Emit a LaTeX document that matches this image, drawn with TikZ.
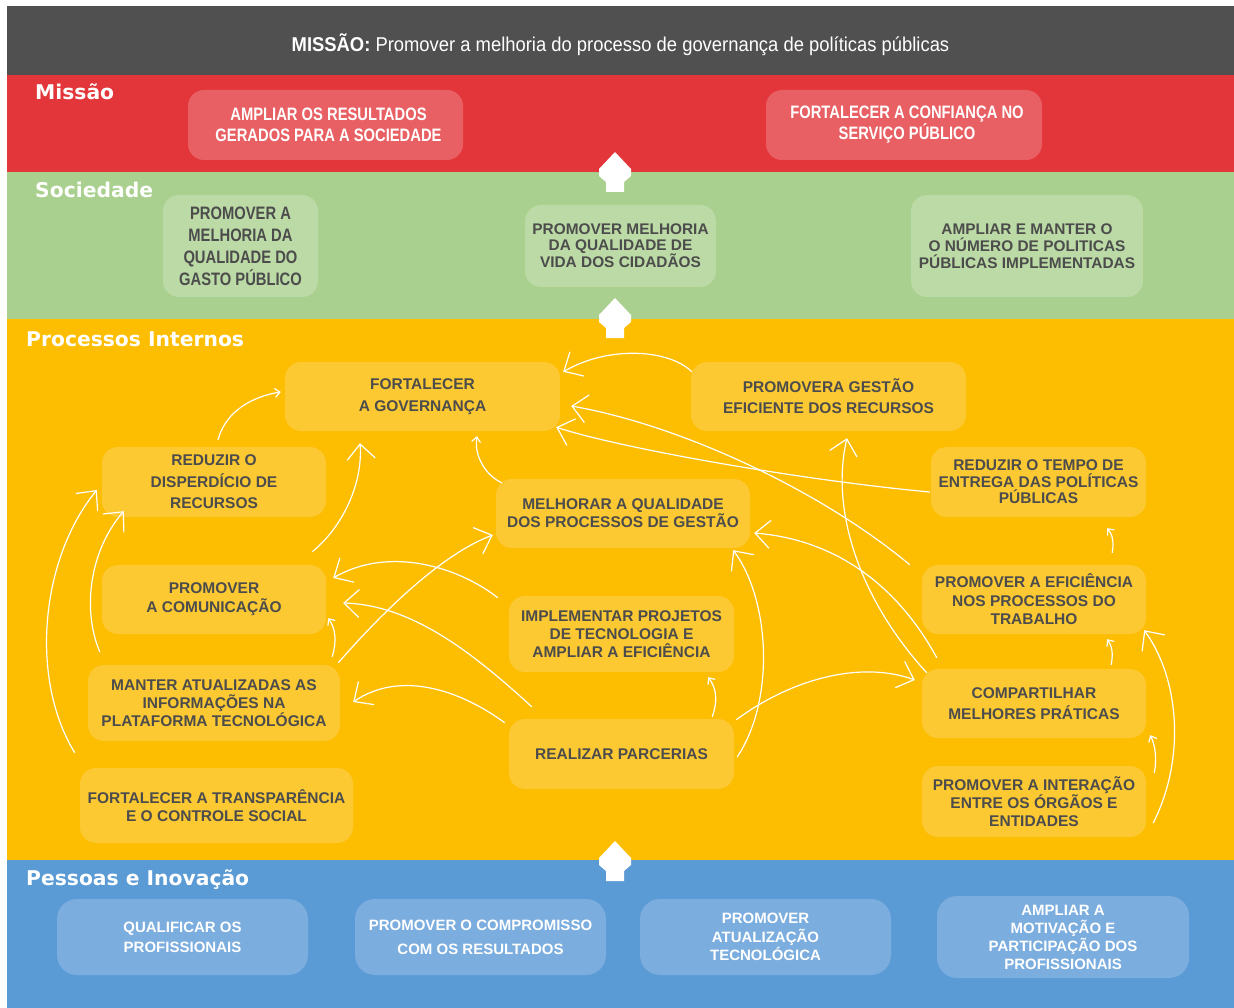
\documentclass[tikz,border=0pt]{standalone}
\usepackage{fontspec}
\setmainfont{Liberation Sans}
\newfontfamily\narrowfont[FakeStretch=0.82]{Liberation Sans}
\newfontfamily\ttlfont[FakeStretch=0.92]{Liberation Sans}
\newfontfamily\bandfont{DejaVu Sans}
\usetikzlibrary{arrows.meta,calc}
\definecolor{darkband}{HTML}{505050}
\definecolor{redband}{HTML}{E3363A}
\definecolor{redbox}{HTML}{E86063}
\definecolor{greenband}{HTML}{A9D08E}
\definecolor{greenbox}{HTML}{BBDAA5}
\definecolor{yellowband}{HTML}{FDBD00}
\definecolor{yellowbox}{HTML}{FCC933}
\definecolor{blueband}{HTML}{5B9BD5}
\definecolor{bluebox}{HTML}{7BADDE}
\definecolor{txtc}{HTML}{4C4C4C}
\newcommand\bxf[1]{\fontsize{15.5}{#1}\selectfont\bfseries}
\newcommand\gxf[1]{\fontsize{15.4}{#1}\selectfont\bfseries}
\newcommand\blf[1]{\fontsize{15}{#1}\selectfont\bfseries}
\newcommand\nrf[1]{\narrowfont\fontsize{18}{#1}\selectfont\bfseries}
\begin{document}
\begin{tikzpicture}[x=1pt,y=-1pt,
  boxbase/.style={rounded corners=16pt, align=center, inner sep=0pt},
  ybox/.style={boxbase, fill=yellowbox, text=txtc},
  gbox/.style={boxbase, fill=greenbox, text=txtc},
  rbox/.style={boxbase, fill=redbox, text=white},
  bbox/.style={boxbase, fill=bluebox, text=white, rounded corners=20pt},
  bandlabel/.style={anchor=base west, text=white, inner sep=0pt, font=\bandfont\fontsize{20.3}{24}\selectfont\bfseries},
  bigarrow/.style={draw=white, line width=1.2pt, -{Straight Barb[length=15pt,width=28pt]}},
  smallarrow/.style={draw=white, line width=1.2pt, -{Straight Barb[length=5pt,width=9pt]}}
]
\useasboundingbox (0,0) rectangle (1234,1008);
\fill[white] (0,0) rectangle (1234,1008);
% bands
\fill[darkband] (7,6) rectangle (1234,75);
\fill[redband] (7,75) rectangle (1234,172);
\fill[greenband] (7,172) rectangle (1234,319);
\fill[yellowband] (7,319) rectangle (1234,860);
\fill[blueband] (7,860) rectangle (1234,1008);

% title
\node[anchor=base, text=white, inner sep=0pt, font=\ttlfont\fontsize{20}{24}\selectfont] (title) at (620.5,52)
  {\bfseries MISSÃO: \mdseries Promover a melhoria do processo de governança de políticas públicas};

% band labels
\node[bandlabel] (lmissao) at (35,100) {Missão};
\node[bandlabel] (lsoc) at (35,198) {Sociedade};
\node[bandlabel] (lproc) at (26,346) {Processos Internos};
\node[bandlabel] (lpess) at (26,885) {Pessoas e Inovação};

% red boxes
\node[rbox, minimum width=275pt, minimum height=70pt, font=\nrf{21}] (ampliar) at (325.5,125) {\hspace*{6pt}AMPLIAR OS RESULTADOS\\\hspace*{6pt}GERADOS PARA A SOCIEDADE};
\node[rbox, minimum width=276pt, minimum height=70pt, font=\nrf{21}] (confianca) at (904,125) {\hspace*{6pt}FORTALECER A CONFIANÇA NO\\\hspace*{6pt}SERVIÇO PÚBLICO};

% green boxes
\node[gbox, minimum width=155pt, minimum height=102pt, font=\nrf{22}] (gasto) at (240.5,246) {PROMOVER A\\MELHORIA DA\\QUALIDADE DO\\GASTO PÚBLICO};
\node[gbox, minimum width=191pt, minimum height=82pt, font=\gxf{15.5}] (vida) at (620.5,246) {PROMOVER MELHORIA\\DA QUALIDADE DE\\VIDA DOS CIDADÃOS};
\node[gbox, minimum width=232pt, minimum height=102pt, font=\gxf{17}] (numero) at (1027,246) {AMPLIAR E MANTER O\\O NÚMERO DE POLITICAS\\PÚBLICAS IMPLEMENTADAS};

% yellow boxes
\node[ybox, minimum width=275pt, minimum height=69pt, font=\bxf{22}] (gov) at (422.5,396.5) {FORTALECER\\A GOVERNANÇA};
\node[ybox, minimum width=275pt, minimum height=69pt, font=\bxf{21}] (gestao) at (828.5,396.5) {PROMOVERA GESTÃO\\EFICIENTE DOS RECURSOS};
\node[ybox, minimum width=224pt, minimum height=70pt, font=\bxf{21.5}] (desp) at (214,482) {REDUZIR O\\DISPERDÍCIO DE\\RECURSOS};
\node[ybox, minimum width=215pt, minimum height=70pt, font=\bxf{16.5}] (tempo) at (1038.5,482) {REDUZIR O TEMPO DE\\ENTREGA DAS POLÍTICAS\\PÚBLICAS};
\node[ybox, minimum width=254pt, minimum height=69pt, font=\bxf{18}] (melhorar) at (623,513.5) {MELHORAR A QUALIDADE\\DOS PROCESSOS DE GESTÃO};
\node[ybox, minimum width=224pt, minimum height=69pt, font=\bxf{19}] (comun) at (214,599.5) {PROMOVER\\A COMUNICAÇÃO};
\node[ybox, minimum width=225pt, minimum height=76pt, font=\bxf{18}] (implem) at (621.5,634) {IMPLEMENTAR PROJETOS\\DE TECNOLOGIA E\\AMPLIAR A EFICIÊNCIA};
\node[ybox, minimum width=224pt, minimum height=69pt, font=\bxf{18.5}] (efic) at (1034,599.5) {PROMOVER A EFICIÊNCIA\\NOS PROCESSOS DO\\TRABALHO};
\node[ybox, minimum width=252pt, minimum height=76pt, font=\bxf{18}] (manter) at (214,703) {MANTER ATUALIZADAS AS\\INFORMAÇÕES NA\\PLATAFORMA TECNOLÓGICA};
\node[ybox, minimum width=225pt, minimum height=70pt, font=\bxf{18}] (parc) at (621.5,754) {REALIZAR PARCERIAS};
\node[ybox, minimum width=224pt, minimum height=69pt, font=\bxf{21}] (compart) at (1034,703.5) {COMPARTILHAR\\MELHORES PRÁTICAS};
\node[ybox, minimum width=273pt, minimum height=75pt, font=\bxf{18}] (transp) at (216.5,805.5) {FORTALECER A TRANSPARÊNCIA\\E O CONTROLE SOCIAL};
\node[ybox, minimum width=224pt, minimum height=71pt, font=\bxf{18}] (interacao) at (1034,801.5) {PROMOVER A INTERAÇÃO\\ENTRE OS ÓRGÃOS E\\ENTIDADES};

% blue boxes
\node[bbox, minimum width=251pt, minimum height=76pt, font=\blf{20}] (qualif) at (182.5,937) {QUALIFICAR OS\\PROFISSIONAIS};
\node[bbox, minimum width=251pt, minimum height=76pt, font=\blf{24}] (compr) at (480.5,937) {PROMOVER O COMPROMISSO\\COM OS RESULTADOS};
\node[bbox, minimum width=251pt, minimum height=76pt, font=\blf{18.5}] (atual) at (765.5,937) {PROMOVER\\ATUALIZAÇÃO\\TECNOLÓGICA};
\node[bbox, minimum width=252pt, minimum height=82pt, font=\blf{18}] (motiv) at (1063,937) {AMPLIAR A\\MOTIVAÇÃO E\\PARTICIPAÇÃO DOS\\PROFISSIONAIS};

% block arrows between bands
\foreach \yy in {152,298,841}{
  \fill[white] (615,\yy) -- ++(16,17) -- ++(0,7) -- ++(-7,6) -- ++(0,10) -- ++(-18,0) -- ++(0,-10) -- ++(-7,-6) -- ++(0,-7) -- cycle;
}

% connectors
\draw[smallarrow] ($(desp.north)+(4,-7)$) .. controls +(8,-30) and +(-26,4) .. ($(gov.west)+(-4,-4.5)$);
\draw[bigarrow] ($(comun.north east)+(-14,-13)$) .. controls +(33,-27) and +(3,37) .. ($(gov.south)+(-62.5,12)$);
\draw[bigarrow] ($(manter.north west)+(12,-13)$) .. controls +(-18,-42) and +(-34,39) .. ($(desp.south west)+(22,-6)$);
\draw[bigarrow] ($(transp.north west)+(-5,-15)$) .. controls +(-45,-73) and +(-57,70) .. ($(desp.west)+(-5,8)$);
\draw[smallarrow] ($(manter.north east)+(-8,-8)$) .. controls +(5,-17) and +(7,10) .. ($(comun.south east)+(2,-16)$);
\draw[bigarrow] ($(manter.north east)+(-2,-2)$) .. controls +(42,-48) and +(-53,20) .. ($(melhorar.west)+(-3,21.5)$);
\draw[bigarrow] ($(implem.north west)+(-11,2)$) .. controls +(-38,-30) and +(57,-33) .. ($(comun.east)+(7,-21.5)$);
\draw[bigarrow] ($(parc.north west)+(23,-12)$) .. controls +(-62,-57) and +(67,2) .. ($(comun.east)+(17,3.5)$);
\draw[bigarrow] ($(parc.north west)+(-4,4)$) .. controls +(-45,-33) and +(47,-32) .. ($(manter.east)+(13,-1)$);
\draw[bigarrow] ($(gestao.north west)+(1,10)$) .. controls +(-22,-22) and +(47,-27) .. ($(gov.north east)+(3,10)$);
\draw[bigarrow] ($(efic.north west)+(-12,0)$) .. controls +(-90,-75) and +(109,19) .. ($(gov.east)+(11,9.5)$);
\draw[bigarrow] ($(tempo.west)+(-1,10)$) .. controls +(-130,-12) and +(64,21) .. ($(gov.south east)+(-4,-4)$);
\draw[smallarrow] ($(melhorar.north west)+(6,4)$) .. controls +(-17,-8) and +(-3,19) .. ($(gov.south)+(54.5,5)$);
\draw[bigarrow] ($(compart.north west)+(15,-11)$) .. controls +(-37,-68) and +(86,7) .. ($(melhorar.east)+(4,19.5)$);
\draw[bigarrow] ($(parc.east)+(3,3)$) .. controls +(38,-57) and +(37,50) .. ($(melhorar.south east)+(-17,2)$);
\draw[smallarrow] ($(parc.north east)+(-22,-2)$) .. controls +(6,-17) and +(8,11) .. ($(implem.south east)+(-26,5)$);
\draw[bigarrow] ($(parc.north east)+(2,1)$) .. controls +(54,-40) and +(-55,-20) .. ($(compart.west)+(-7,-23.5)$);
\draw[bigarrow] ($(compart.north west)+(5,4)$) .. controls +(-67,-73) and +(-17,72) .. ($(gestao.south)+(18.5,7)$);
\draw[smallarrow] ($(efic.north east)+(-34,-12)$) .. controls +(2,-11) and +(5,6) .. ($(tempo.south east)+(-39,11)$);
\draw[smallarrow] ($(compart.north east)+(-35,-4)$) .. controls +(2,-11) and +(5,7) .. ($(efic.south east)+(-39,5)$);
\draw[smallarrow] ($(interacao.north east)+(8,7)$) .. controls +(3,-14) and +(5,10) .. ($(compart.south east)+(4,-3)$);
\draw[bigarrow] ($(interacao.east)+(7,21.5)$) .. controls +(32,-63) and +(36,50) .. ($(efic.south east)+(-2,-4)$);
\end{tikzpicture}
\end{document}
